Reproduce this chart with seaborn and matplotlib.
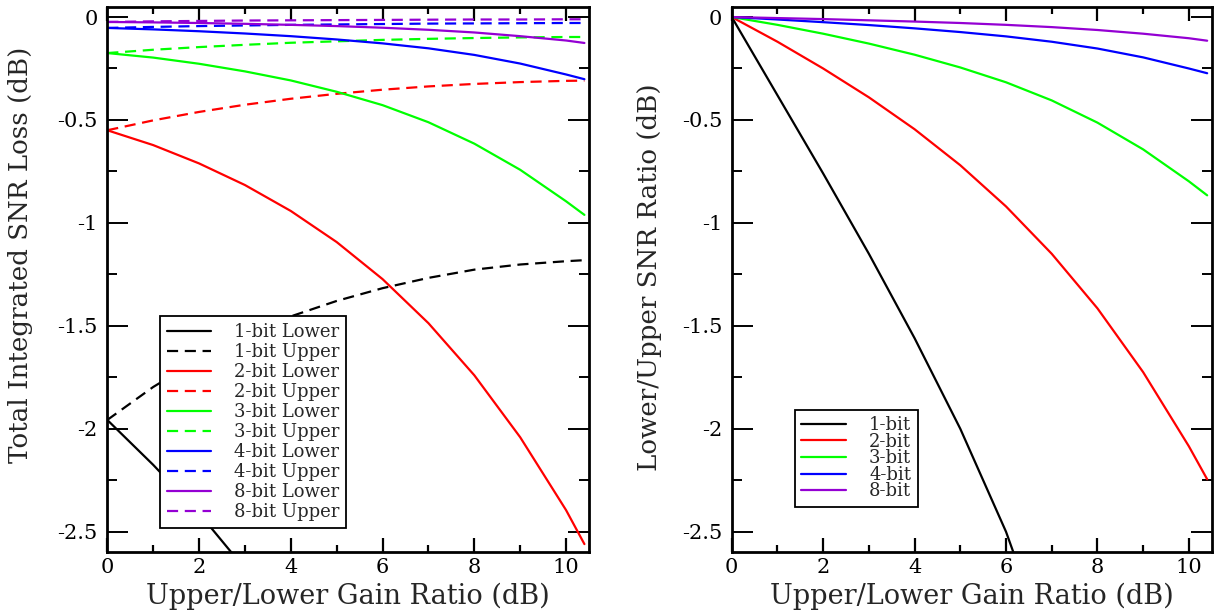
import matplotlib
matplotlib.use("Agg")
import matplotlib.pyplot as plt
import seaborn as sns
import numpy as np
import pandas as pd
from matplotlib.ticker import MultipleLocator, FuncFormatter

# ---------------- data ----------------
gain_db = [0, 1, 2, 3, 4, 5, 6, 7, 8, 9, 10, 10.4]

# left panel: total integrated SNR loss (dB)
bit1_lower_x = [0, 1, 2, 3]
bit1_lower = [-1.957, -2.175, -2.41, -2.68]
bit1_upper = [-1.957, -1.797, -1.662, -1.549, -1.454, -1.379, -1.317, -1.267, -1.227, -1.202, -1.186, -1.181]
bit2_lower = [-0.55, -0.622, -0.711, -0.816, -0.942, -1.093, -1.273, -1.487, -1.74, -2.041, -2.395, -2.56]
bit2_upper = [-0.55, -0.502, -0.461, -0.426, -0.397, -0.373, -0.353, -0.337, -0.325, -0.316, -0.310, -0.309]
bit3_lower = [-0.175, -0.197, -0.227, -0.264, -0.308, -0.363, -0.428, -0.511, -0.615, -0.742, -0.895, -0.961]
bit3_upper = [-0.175, -0.159, -0.146, -0.135, -0.125, -0.118, -0.111, -0.106, -0.102, -0.099, -0.097, -0.097]
bit4_lower = [-0.053, -0.060, -0.069, -0.080, -0.093, -0.109, -0.128, -0.152, -0.184, -0.226, -0.279, -0.302]
bit4_upper = [-0.053, -0.048, -0.044, -0.041, -0.038, -0.036, -0.034, -0.032, -0.031, -0.030, -0.029, -0.029]
bit8_lower = [-0.024, -0.026, -0.029, -0.033, -0.038, -0.044, -0.052, -0.062, -0.075, -0.093, -0.114, -0.126]
bit8_upper = [-0.024, -0.021, -0.019, -0.017, -0.016, -0.015, -0.014, -0.013, -0.012, -0.012, -0.011, -0.011]

# right panel: lower/upper SNR ratio (dB)
bit1_ratio_x = [0, 1, 2, 3, 4, 5, 6, 6.2]
bit1_ratio = [0, -0.38, -0.76, -1.15, -1.56, -2.00, -2.50, -2.624]
bit2_ratio = [0, -0.12, -0.25, -0.39, -0.545, -0.72, -0.92, -1.15, -1.415, -1.725, -2.085, -2.245]
bit3_ratio = [0, -0.038, -0.081, -0.129, -0.183, -0.245, -0.317, -0.405, -0.513, -0.643, -0.798, -0.866]
bit4_ratio = [0, -0.012, -0.025, -0.039, -0.055, -0.073, -0.094, -0.12, -0.153, -0.196, -0.25, -0.273]
bit8_ratio = [0, -0.005, -0.01, -0.016, -0.022, -0.029, -0.038, -0.049, -0.063, -0.081, -0.103, -0.115]

bit_labels = ["1-bit", "2-bit", "3-bit", "4-bit", "8-bit"]
xtick_vals = [0, 2, 4, 6, 8, 10]
ytick_vals = [0, -0.5, -1, -1.5, -2, -2.5]

# ---------------- style ----------------
sns.set_style("ticks")
plt.rcParams["font.family"] = ["DejaVu Serif"]
plt.rcParams["axes.unicode_minus"] = False

colors = ["#000000", "#ff0000", "#00ff00", "#0000ff", "#9400d3"]
LW = 1.6
DASH = (5, 3)

fig = plt.figure(figsize=(12.22, 6.12), dpi=100)
axL = fig.add_axes([0.0878, 0.0975, 0.3942, 0.8915])
axR = fig.add_axes([0.5988, 0.0975, 0.3928, 0.8915])

left_series = [
    (bit1_lower_x, bit1_lower, bit1_upper),
    (gain_db, bit2_lower, bit2_upper),
    (gain_db, bit3_lower, bit3_upper),
    (gain_db, bit4_lower, bit4_upper),
    (gain_db, bit8_lower, bit8_upper),
]
for (lx, low, up), c, lab in zip(left_series, colors, bit_labels):
    sns.lineplot(x=lx, y=low, ax=axL, color=c, lw=LW, label=f"{lab} Lower",
                 estimator=None, sort=False)
    l = sns.lineplot(x=gain_db, y=up, ax=axL, color=c, lw=LW, label=f"{lab} Upper",
                     estimator=None, sort=False)
    l.lines[-1].set_dashes(DASH)

right_series = [
    (bit1_ratio_x, bit1_ratio),
    (gain_db, bit2_ratio),
    (gain_db, bit3_ratio),
    (gain_db, bit4_ratio),
    (gain_db, bit8_ratio),
]
for (rx, ry), c, lab in zip(right_series, colors, bit_labels):
    sns.lineplot(x=rx, y=ry, ax=axR, color=c, lw=LW, label=lab,
                 estimator=None, sort=False)

fmt = FuncFormatter(lambda v, p: "%g" % v)
for ax in (axL, axR):
    ax.set_xlim(0, 10.5)
    ax.set_ylim(-2.6, 0.05)
    ax.set_xticks(xtick_vals)
    ax.set_yticks(ytick_vals)
    ax.xaxis.set_minor_locator(MultipleLocator(1))
    ax.yaxis.set_minor_locator(MultipleLocator(0.25))
    ax.xaxis.set_major_formatter(fmt)
    ax.yaxis.set_major_formatter(fmt)
    ax.tick_params(axis="both", which="both", direction="in", top=True, right=True,
                   labelsize=15, color="black", labelcolor="black")
    ax.tick_params(axis="x", which="major", length=10, width=1.6, pad=4)
    ax.tick_params(axis="x", which="minor", length=5, width=1.6)
    ax.tick_params(axis="y", which="major", length=15, width=1.4, pad=7)
    ax.tick_params(axis="y", which="minor", length=7.5, width=1.4)
    for s in ax.spines.values():
        s.set_linewidth(2)
        s.set_color("black")
    ax.set_xlabel("Upper/Lower Gain Ratio (dB)", fontsize=19.5)
    ax.xaxis.set_label_coords(0.5, -0.056)

axL.set_ylabel("Total Integrated SNR Loss (dB)", fontsize=18.8)
axL.yaxis.set_label_coords(-0.155, 0.545)
axR.set_ylabel("Lower/Upper SNR Ratio (dB)", fontsize=18.8)
axR.yaxis.set_label_coords(-0.145, 0.504)

legL = axL.legend(loc="upper left", bbox_to_anchor=(0.109, 0.433), borderaxespad=0,
                  fontsize=13, fancybox=False, framealpha=1, edgecolor="black",
                  handlelength=2.45, handletextpad=1.25, labelspacing=0.11,
                  borderpad=0.4)
legL.get_frame().set_linewidth(1.3)
legR = axR.legend(loc="upper left", bbox_to_anchor=(0.132, 0.261), borderaxespad=0,
                  fontsize=13, fancybox=False, framealpha=1, edgecolor="black",
                  handlelength=2.45, handletextpad=1.3, labelspacing=-0.08,
                  borderpad=0.35)
legR.get_frame().set_linewidth(1.3)

fig.savefig("out.png", dpi=100)
